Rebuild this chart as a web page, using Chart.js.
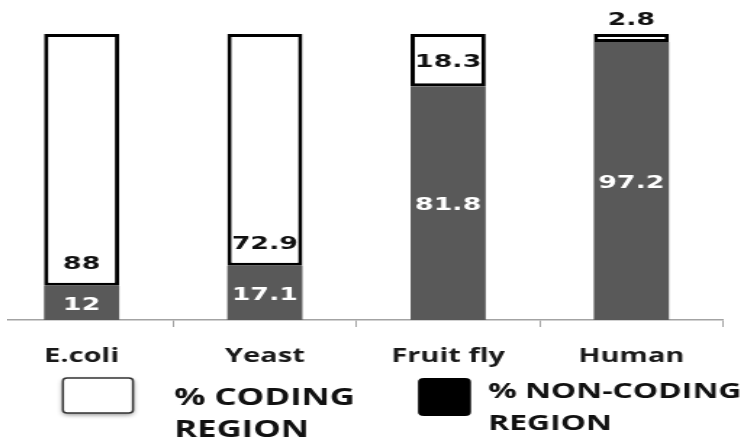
<!DOCTYPE html>
<html>
<head>
<meta charset="utf-8">
<script src="https://cdn.jsdelivr.net/npm/chart.js@4/dist/chart.umd.min.js"></script>
<style>
  html, body { margin: 0; padding: 0; background: #fff; overflow: hidden; }
  #clip { position: absolute; left: 7px; top: 0; width: 738px; height: 441px; overflow: hidden; }
  #wide { position: absolute; left: -17px; top: 0; transform: scaleX(1.45); transform-origin: 0 0; }
  canvas { display: block; }
</style>
</head>
<body>
<div id="clip"><div id="wide"><canvas id="c" width="521" height="441"></canvas></div></div>
<script>
// Share of each genome that is coding vs non-coding
const organisms = ['E.coli', 'Yeast', 'Fruit fly', 'Human'];
const codingPct = [88, 72.9, 18.3, 2.8];
const nonCodingPct = [12, 17.1, 81.8, 97.2];
const legendCoding = ['% CODING', 'REGION'];
const legendNonCoding = ['% NON-CODING', 'REGION'];

// Each column is drawn as a 100% stack of the two values
const totals = organisms.map((_, i) => codingPct[i] + nonCodingPct[i]);
const share = arr => arr.map((v, i) => v / totals[i] * 100);

const GREY = '#595959';

// Value labels: non-coding centred in its segment, coding just above its base
const valueLabels = {
  id: 'valueLabels',
  afterDatasetsDraw(chart) {
    const ctx = chart.ctx;
    const sources = [nonCodingPct, codingPct];
    ctx.save();
    ctx.font = 'bold 18.5px "DejaVu Sans"';
    ctx.textAlign = 'center';
    ctx.textBaseline = 'alphabetic';
    const half = 6.7;
    chart.data.datasets.forEach((ds, di) => {
      const meta = chart.getDatasetMeta(di);
      meta.data.forEach((bar, i) => {
        const top = Math.min(bar.y, bar.base);
        const base = Math.max(bar.y, bar.base);
        const h = base - top;
        let cy;
        if (di === 0) {
          cy = (top + base) / 2;
          ctx.fillStyle = '#ffffff';
        } else {
          ctx.fillStyle = '#111111';
          if (h < 22) cy = top - 15.5;
          else if (h < 56) cy = (top + base) / 2;
          else cy = base - 23;
        }
        ctx.fillText(String(sources[di][i]), bar.x, cy + half);
      });
    });
    ctx.restore();
  }
};

// Swatch legend under the axis, each entry on two lines
const boxLegend = {
  id: 'boxLegend',
  afterDraw(chart) {
    const ctx = chart.ctx;
    ctx.save();
    ctx.shadowColor = 'rgba(0,0,0,0.45)';
    ctx.shadowBlur = 4;
    ctx.shadowOffsetY = 2;
    ctx.fillStyle = '#ffffff';
    ctx.beginPath();
    ctx.roundRect(50.3, 378, 48.3, 35, 3);
    ctx.fill();
    ctx.shadowColor = 'transparent';
    ctx.lineWidth = 1.5;
    ctx.strokeStyle = '#333333';
    ctx.stroke();

    ctx.fillStyle = '#000000';
    ctx.beginPath();
    ctx.roundRect(295.2, 378, 36.5, 38, 4);
    ctx.fill();

    ctx.fillStyle = '#111111';
    ctx.textAlign = 'left';
    ctx.textBaseline = 'alphabetic';
    ctx.font = 'bold 24px "Open Sans"';
    ctx.fillText(legendCoding[0], 126.9, 405);
    ctx.fillText(legendCoding[1], 126.9, 437);
    ctx.font = 'bold 22px "Open Sans"';
    ctx.fillText(legendNonCoding[0], 343.4, 398);
    ctx.fillText(legendNonCoding[1], 343.4, 430);
    ctx.restore();
  }
};

new Chart(document.getElementById('c'), {
  type: 'bar',
  data: {
    labels: organisms,
    datasets: [
      {
        label: '% NON-CODING REGION',
        data: share(nonCodingPct),
        backgroundColor: GREY,
        borderWidth: 0
      },
      {
        label: '% CODING REGION',
        data: share(codingPct),
        backgroundColor: '#ffffff',
        borderColor: '#000000',
        borderWidth: 3,
        borderSkipped: false
      }
    ]
  },
  options: {
    responsive: false,
    animation: false,
    devicePixelRatio: 1,
    layout: { padding: { left: 0, right: 15.5, top: 34, bottom: 0 } },
    plugins: { legend: { display: false }, tooltip: { enabled: false } },
    datasets: { bar: { categoryPercentage: 1, barPercentage: 0.41 } },
    scales: {
      x: {
        stacked: true,
        offset: true,
        grid: { offset: true, drawOnChartArea: false, drawTicks: true, tickLength: 7, color: '#a3a3a3', lineWidth: 1 },
        border: { display: true, color: '#a3a3a3', width: 1.5 },
        ticks: {
          color: '#1a1a1a',
          font: { family: "'Open Sans'", size: 20, weight: 'bold' },
          padding: 17,
          maxRotation: 0,
          autoSkip: false
        },
        afterFit(scale) { scale.height = 121; }
      },
      y: { stacked: true, display: false, min: 0, max: 100 }
    }
  },
  plugins: [valueLabels, boxLegend]
});
</script>
</body>
</html>
